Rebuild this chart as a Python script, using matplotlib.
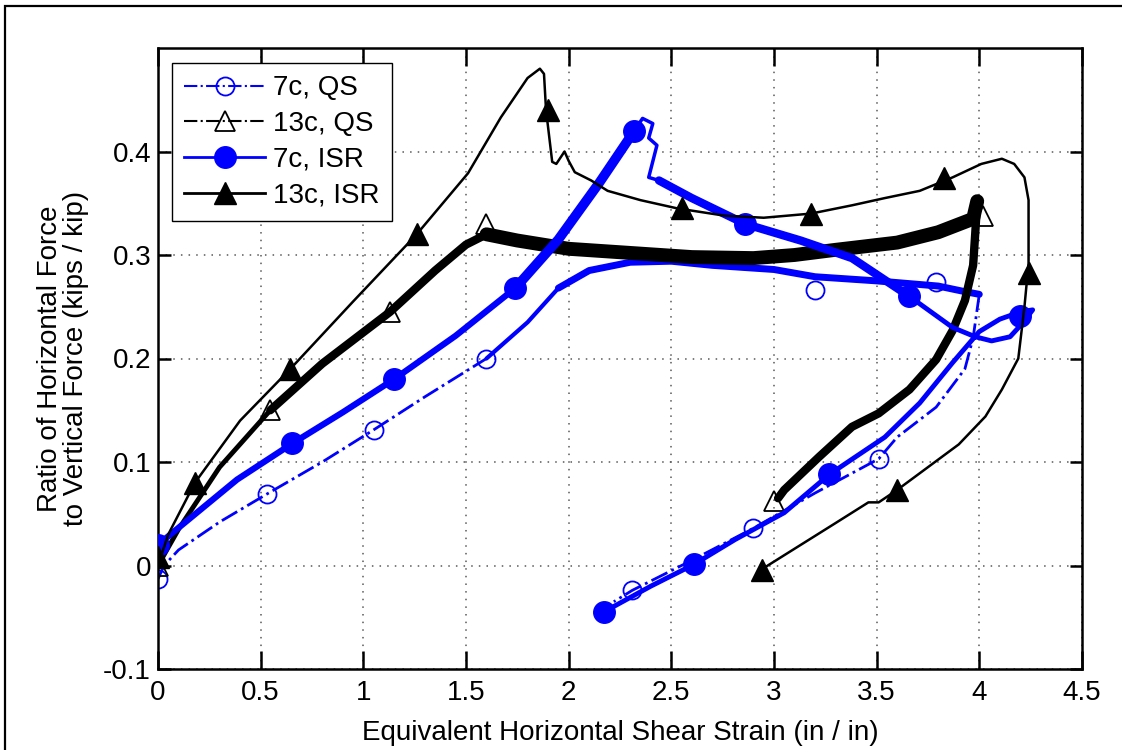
import matplotlib
matplotlib.use("Agg")
import matplotlib.pyplot as plt
from matplotlib.lines import Line2D
from matplotlib.patches import Rectangle

plt.rcParams["font.family"] = ["Liberation Sans", "DejaVu Sans"]

# ---- data ----
# 7c, QS (blue, dash-dot, open circles)
qs7_x = [0.0, 0.03, 0.1, 0.3, 0.53, 0.8, 1.05, 1.3, 1.6, 1.8, 1.95, 2.1, 2.3, 2.5,
         2.7, 3.0, 3.2, 3.5, 3.8, 3.92, 4.0, 3.97, 3.93, 3.79, 3.6, 3.51, 3.2,
         2.9, 2.6, 2.31, 2.22]
qs7_y = [-0.013, 0.0, 0.015, 0.042, 0.069, 0.1, 0.131, 0.163, 0.2, 0.235, 0.268,
         0.285, 0.293, 0.294, 0.29, 0.286, 0.279, 0.275, 0.27, 0.265, 0.262,
         0.22, 0.19, 0.153, 0.124, 0.103, 0.07, 0.036, 0.005, -0.024, -0.035]
qs7_mx = [0.0, 0.53, 1.05, 1.6, 3.2, 3.79, 3.51, 2.9, 2.31]
qs7_my = [-0.013, 0.069, 0.131, 0.2, 0.266, 0.274, 0.103, 0.036, -0.024]

# 13c, QS (black, dash-dot, open triangles)
qs13_x = [0.0, 0.1, 0.3, 0.547, 0.8, 1.13, 1.35, 1.5, 1.6, 1.75, 2.0, 2.3, 2.6,
          2.9, 3.1, 3.3, 3.6, 3.8, 3.97, 3.99, 3.98, 3.97, 3.93, 3.87, 3.79,
          3.66, 3.51, 3.38, 3.22, 3.05, 3.02]
qs13_y = [0.0, 0.035, 0.095, 0.15, 0.195, 0.245, 0.285, 0.31, 0.32, 0.314,
          0.306, 0.302, 0.298, 0.297, 0.3, 0.305, 0.312, 0.322, 0.335, 0.352,
          0.32, 0.29, 0.256, 0.227, 0.199, 0.17, 0.147, 0.134, 0.105, 0.073, 0.065]
qs13_mx = [0.0, 0.547, 1.13, 1.6, 4.02, 3.0]
qs13_my = [0.0, 0.15, 0.245, 0.33, 0.338, 0.062]

# 7c, ISR (blue, solid, filled circles)
isr7_x = [0.0, 0.073, 0.385, 0.655, 0.9, 1.15, 1.45, 1.74, 1.95, 2.15, 2.32,
          2.36, 2.41, 2.39, 2.43, 2.39, 2.44, 2.6, 2.86, 3.13, 3.38, 3.66, 3.87,
          3.98, 4.06, 4.15, 4.21, 4.26, 4.2, 4.1, 4.0, 3.87, 3.71, 3.54, 3.27,
          3.05, 2.81, 2.61, 2.4, 2.17]
isr7_y = [0.02, 0.032, 0.083, 0.118, 0.148, 0.18, 0.222, 0.268, 0.315, 0.37,
          0.42, 0.432, 0.427, 0.413, 0.406, 0.375, 0.372, 0.355, 0.33, 0.314,
          0.297, 0.26, 0.23, 0.221, 0.217, 0.221, 0.234, 0.247, 0.245, 0.238,
          0.226, 0.196, 0.157, 0.124, 0.088, 0.051, 0.025, 0.001, -0.02, -0.045]
isr7_mx = [0.0, 0.655, 1.15, 1.74, 2.32, 2.86, 3.66, 4.2, 3.27, 2.61, 2.17]
isr7_my = [0.02, 0.118, 0.18, 0.268, 0.42, 0.33, 0.26, 0.241, 0.088, 0.001, -0.045]

# 13c, ISR (black, solid, filled triangles)
isr13_x = [0.0, 0.05, 0.18, 0.4, 0.645, 0.95, 1.26, 1.51, 1.67, 1.8, 1.86, 1.88,
           1.89, 1.92, 1.94, 1.98, 2.0, 2.03, 2.11, 2.19, 2.35, 2.53, 2.76, 2.95,
           3.18, 3.38, 3.54, 3.71, 3.87, 4.01, 4.11, 4.17, 4.22, 4.24, 4.24,
           4.22, 4.19, 4.11, 4.03, 3.9, 3.6, 3.51, 3.46, 3.3, 2.97, 2.94]
isr13_y = [0.0, 0.03, 0.08, 0.14, 0.19, 0.255, 0.32, 0.379, 0.433, 0.471, 0.48,
           0.475, 0.44, 0.39, 0.388, 0.4, 0.391, 0.38, 0.372, 0.362, 0.353, 0.345,
           0.338, 0.336, 0.34, 0.348, 0.355, 0.362, 0.375, 0.388, 0.393, 0.388,
           0.375, 0.353, 0.292, 0.25, 0.2, 0.17, 0.144, 0.117, 0.073, 0.061,
           0.061, 0.041, 0.0, -0.004]
isr13_mx = [0.0, 0.18, 0.645, 1.26, 1.9, 2.55, 3.18, 3.83, 4.24, 3.6, 2.94]
isr13_my = [0.008, 0.08, 0.19, 0.32, 0.44, 0.345, 0.34, 0.374, 0.283, 0.073, -0.004]

labels = ["7c, QS", "13c, QS", "7c, ISR", "13c, ISR"]
x_ticks = [0, 0.5, 1, 1.5, 2, 2.5, 3, 3.5, 4, 4.5]
x_tick_labels = ["0", "0.5", "1", "1.5", "2", "2.5", "3", "3.5", "4", "4.5"]
y_ticks = [-0.1, 0, 0.1, 0.2, 0.3, 0.4]
y_tick_labels = ["-0.1", "0", "0.1", "0.2", "0.3", "0.4"]

BLUE = "#0000ff"
FS = 20

fig = plt.figure(figsize=(11.22, 7.5), dpi=100)
ax = fig.add_axes([0.1408, 0.108, 0.8235, 0.828])


def draw_band(xs, ys, pieces, color, z):
    # the measured traces are noisy, so they read as bands of varying width
    for i0, i1, lw, ls in pieces:
        ax.plot(xs[i0:i1 + 1], ys[i0:i1 + 1], color=color, lw=lw, ls=ls,
                solid_capstyle="round", solid_joinstyle="round", zorder=z)


# 7c QS
draw_band(qs7_x, qs7_y, [(0, 8, 2.0, "-."), (8, 10, 3.0, "-"), (10, 20, 5.0, "-"),
                         (20, 30, 2.0, "-.")], BLUE, 2)
ax.plot(qs7_mx, qs7_my, ls="none", marker="o", ms=13, mfc="none", mec=BLUE,
        mew=1.3, zorder=2.1)

# 13c QS
draw_band(qs13_x, qs13_y, [(0, 3, 3.5, "-"), (3, 8, 6.0, "-"), (8, 19, 10.0, "-"),
                           (19, 30, 6.0, "-")], "k", 3)
ax.plot(qs13_mx, qs13_my, ls="none", marker="^", ms=14, mfc="none", mec="k",
        mew=1.3, zorder=3.1)

# 7c ISR
draw_band(isr7_x, isr7_y, [(0, 7, 4.5, "-"), (7, 10, 7.0, "-"), (10, 16, 2.5, "-"),
                           (16, 21, 6.0, "-"), (21, 39, 3.5, "-")], BLUE, 4)
ax.plot(isr7_mx, isr7_my, ls="none", marker="o", ms=15.5, mfc=BLUE, mec=BLUE, zorder=4.1)

# 13c ISR
ax.plot(isr13_x, isr13_y, color="k", lw=1.8, zorder=5)
ax.plot(isr13_mx, isr13_my, ls="none", marker="^", ms=16, mfc="k", mec="k", zorder=5.1)

ax.set_xlim(0, 4.5)
ax.set_ylim(-0.1, 0.5)
ax.set_xticks(x_ticks)
ax.set_xticklabels(x_tick_labels)
ax.set_yticks(y_ticks)
ax.set_yticklabels(y_tick_labels)
ax.grid(True, color="0.35", linestyle=(0, (1, 4)), linewidth=1.1)
ax.tick_params(axis="both", direction="in", top=True, right=True,
               labelsize=FS, width=1.8, color="k")
ax.tick_params(axis="x", length=13, pad=8)
ax.tick_params(axis="y", length=9, pad=5)
for sp in ax.spines.values():
    sp.set_linewidth(1.8)

ax.set_xlabel("Equivalent Horizontal Shear Strain (in / in)", fontsize=FS, labelpad=10)
ax.set_ylabel("Ratio of Horizontal Force\nto Vertical Force (kips / kip)",
              fontsize=FS, labelpad=10, linespacing=1.0)

handles = [
    Line2D([], [], color=BLUE, ls="-.", lw=1.5, marker="o", ms=13, mfc="none", mec=BLUE, mew=1.3),
    Line2D([], [], color="k", ls="-.", lw=1.5, marker="^", ms=14, mfc="none", mec="k", mew=1.3),
    Line2D([], [], color=BLUE, ls="-", lw=2.0, marker="o", ms=15.5, mfc=BLUE, mec=BLUE),
    Line2D([], [], color="k", ls="-", lw=2.0, marker="^", ms=16, mfc="k", mec="k"),
]
leg = ax.legend(handles, labels, loc="upper left", bbox_to_anchor=(0.015, 0.976),
                borderaxespad=0, fontsize=FS, handlelength=2.9, handletextpad=0.3,
                labelspacing=0.35, borderpad=0.45, fancybox=False, framealpha=1,
                edgecolor="k")
leg.get_frame().set_linewidth(1.0)
leg.set_zorder(10)

# outer figure frame (left and top edges visible)
fig.patches.append(Rectangle((5 / 1122, -0.1), 1.2, 1.092, transform=fig.transFigure,
                             fill=False, edgecolor="k", linewidth=1.6))

fig.savefig("out.png", dpi=100)
